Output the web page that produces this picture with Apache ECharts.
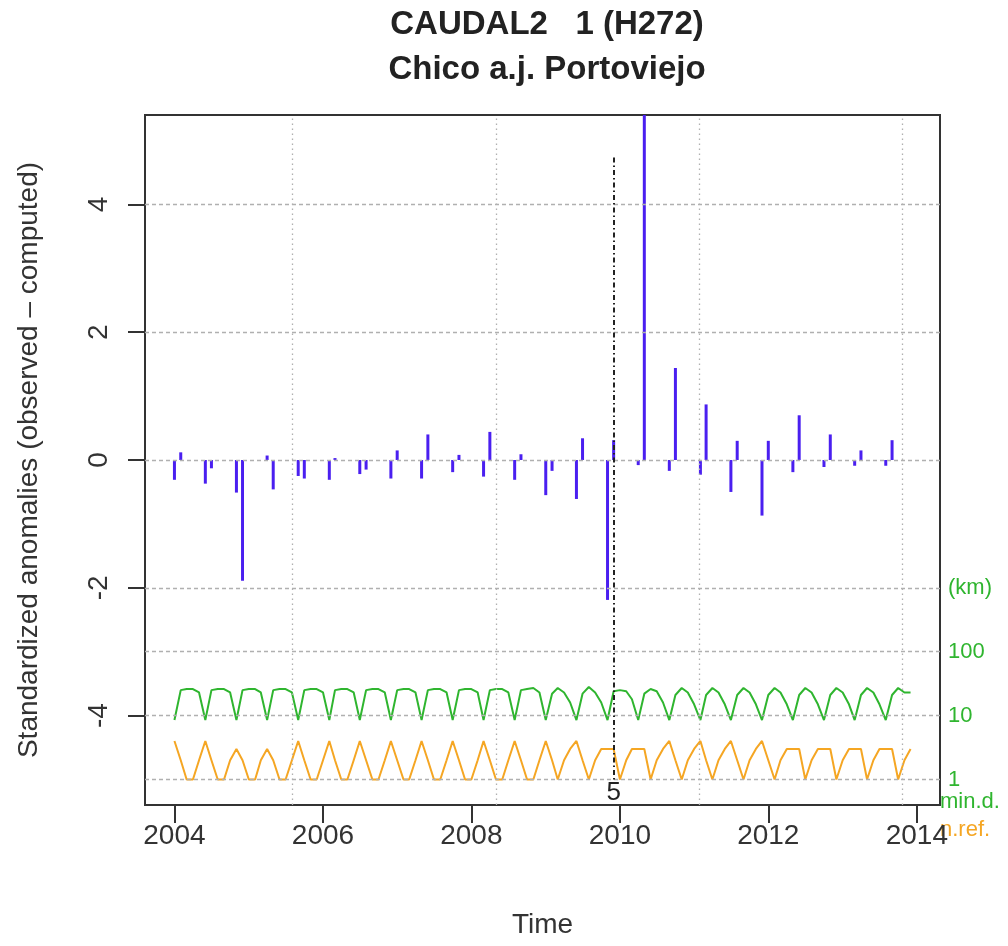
<!DOCTYPE html>
<html>
<head>
<meta charset="utf-8">
<script src="https://cdn.jsdelivr.net/npm/echarts@6/dist/echarts.min.js"></script>
<style>
  html, body { margin: 0; padding: 0; background: #fff; }
  #chart { width: 1008px; height: 946px; }
</style>
</head>
<body>
<div id="chart"></div>
<script>
// ---- monthly series, Jan 2004 .. Dec 2013 ----
const startYear = 2004;
const nMonths = 120;

// minimum distance to the nearest reference (km), one value per month
const minDistKm = [
  8.5, 25, 26, 26, 23,   8.5, 25, 26, 26, 23,   8.5, 25, 26, 26, 23,   8.5, 25, 26, 26, 23,
  8.5, 25, 26, 26, 23,   8.5, 25, 26, 26, 23,   8.5, 25, 26, 26, 23,   8.5, 25, 26, 26, 23,
  8.5, 25, 26, 26, 23,   8.5, 25, 26, 26, 23,   8.5, 25, 26, 26, 23,   8.5, 25, 26, 27, 23,
  8.5, 22, 27, 23, 16,   8.5, 22, 28, 23, 16,   8.5, 24, 25, 24, 18,   8.5, 22, 26, 24, 16,
  8.5, 21, 27, 23, 15,   8.5, 21, 27, 23, 15,   8.5, 21, 27, 23, 15,   8.5, 21, 27, 23, 15,
  8.5, 21, 27, 23, 15,   8.5, 21, 27, 23, 15,   8.5, 21, 27, 23, 15,   8.5, 21, 27, 23, 23
];

// number of references used, one value per month
const nRef = [
  4, 2, 1, 1, 2,   4, 2, 1, 1, 2,   3, 2, 1, 1, 2,   3, 2, 1, 1, 2,
  4, 2, 1, 1, 2,   4, 2, 1, 1, 2,   4, 2, 1, 1, 2,   4, 2, 1, 1, 2,
  4, 2, 1, 1, 2,   4, 2, 1, 1, 2,   4, 2, 1, 1, 2,   4, 2, 1, 1, 2,
  4, 2, 1, 2, 3,   4, 2, 1, 2, 3,   3, 3, 1, 2, 3,   3, 3, 1, 2, 3,
  4, 2, 1, 2, 3,   4, 2, 1, 2, 3,   4, 2, 1, 2, 3,   4, 2, 1, 2, 3,
  3, 3, 1, 2, 3,   3, 3, 1, 2, 3,   3, 3, 1, 2, 3,   3, 3, 1, 2, 3
];

// standardized anomalies at the observed months
const anomMonths = [
  '2004-01','2004-02','2004-06','2004-07','2004-11','2004-12','2005-04','2005-05',
  '2005-09','2005-10','2006-02','2006-03','2006-07','2006-08','2006-12','2007-01',
  '2007-05','2007-06','2007-10','2007-11','2008-03','2008-04','2008-08','2008-09',
  '2009-01','2009-02','2009-06','2009-07','2009-11','2009-12','2010-04','2010-05',
  '2010-09','2010-10','2011-02','2011-03','2011-07','2011-08','2011-12','2012-01',
  '2012-05','2012-06','2012-10','2012-11','2013-03','2013-04','2013-08','2013-09'
];
const anomValues = [
  -0.31, 0.12, -0.37, -0.13, -0.51, -1.89, 0.07, -0.46,
  -0.25, -0.29, -0.31, 0.03, -0.22, -0.15, -0.29, 0.15,
  -0.29, 0.40, -0.19, 0.08, -0.26, 0.44, -0.31, 0.09,
  -0.55, -0.17, -0.61, 0.34, -2.19, 0.31, -0.08, 5.60,
  -0.17, 1.44, -0.23, 0.87, -0.50, 0.30, -0.87, 0.30,
  -0.19, 0.70, -0.11, 0.40, -0.09, 0.15, -0.09, 0.31
];

// detected break
const breakMonth = '2009-12';
const breakTop = 4.74;
const breakLabel = '5';

// axes
const yearTicks = [2004, 2006, 2008, 2010, 2012, 2014];
const leftTicks = [-4, -2, 0, 2, 4];
const logTickPos = [-5, -4, -3, -2];
const logTickText = ['1', '10', '100', '(km)'];
const dayGridLines = [13000, 14000, 15000, 16000];   // days since 1970-01-01

// ---- helpers ----
const DAY = 86400000;
const dayOf = s => { const [y, m] = s.split('-').map(Number); return Date.UTC(y, m - 1, 1) / DAY; };
const months = [];
for (let i = 0; i < nMonths; i++) {
  const y = startYear + Math.floor(i / 12), m = (i % 12) + 1;
  months.push(y + '-' + String(m).padStart(2, '0'));
}
const toLog = v => Math.log10(v) - 5;     // log scale sits on the -5..-2 band
const monthDays = months.map(dayOf);
const span = monthDays[nMonths - 1] - monthDays[0];
const xMin = monthDays[0] - 0.04 * span;
const xMax = monthDays[nMonths - 1] + 0.04 * span;
const yearDays = yearTicks.map(y => Date.UTC(y, 0, 1) / DAY);

const FONT = 'Liberation Sans, Arial, Helvetica, sans-serif';
const BLUE = '#4a1ff0', GREEN = '#2fb52f', ORANGE = '#f5a623';

const hGrid = [...new Set([...leftTicks, ...logTickPos])];
const gridLineStyle = { color: '#b0b0b0', width: 1.3, type: [4, 3] };
const vGridStyle = { color: '#b0b0b0', width: 1.3, type: [1.5, 3.5] };

const chart = echarts.init(document.getElementById('chart'), null, { renderer: 'canvas' });
chart.setOption({
  backgroundColor: '#fff',
  animation: false,
  title: [
    { text: 'CAUDAL2   1 (H272)', left: 542, top: 3, textAlign: 'center',
      textStyle: { fontFamily: FONT, fontSize: 33, fontWeight: 'bold', color: '#222' } },
    { text: 'Chico a.j. Portoviejo', left: 542, top: 48, textAlign: 'center',
      textStyle: { fontFamily: FONT, fontSize: 33, fontWeight: 'bold', color: '#222' } }
  ],
  grid: { left: 145, right: 68, top: 115, height: 690, show: true,
          borderColor: '#333', borderWidth: 2, backgroundColor: 'transparent' },
  xAxis: {
    type: 'value', min: xMin, max: xMax, position: 'bottom',
    name: 'Time', nameLocation: 'middle', nameGap: 106,
    nameTextStyle: { fontFamily: FONT, fontSize: 28, color: '#333' },
    axisLine: { show: false, onZero: false },
    axisTick: { show: true, inside: false, customValues: yearDays, length: 18,
                lineStyle: { color: '#333', width: 2 } },
    axisLabel: { show: true, inside: false, customValues: yearDays, margin: 17,
                 fontFamily: FONT, fontSize: 28, color: '#333',
                 formatter: v => String(new Date(v * DAY).getUTCFullYear()) },
    splitLine: { show: false }
  },
  yAxis: [
    { type: 'value', min: -5.4, max: 5.4, position: 'left',
      name: 'Standardized anomalies (observed \u2013 computed)', nameLocation: 'middle', nameGap: 102,
      nameTextStyle: { fontFamily: FONT, fontSize: 28, color: '#333' },
      axisLine: { show: false, onZero: false },
      axisTick: { show: true, inside: false, customValues: leftTicks, length: 17,
                  lineStyle: { color: '#333', width: 2 } },
      axisLabel: { show: true, customValues: leftTicks, rotate: 90, margin: 32,
                   fontFamily: FONT, fontSize: 28, color: '#333' },
      splitLine: { show: false } },
    { type: 'value', min: -5.4, max: 5.4, position: 'right',
      axisLine: { show: false, onZero: false }, axisTick: { show: false },
      axisLabel: { show: true, customValues: logTickPos, margin: 8,
                   fontFamily: FONT, fontSize: 22, color: GREEN,
                   formatter: v => logTickText[logTickPos.indexOf(Math.round(v))] || '' },
      splitLine: { show: false } }
  ],
  graphic: [
    { type: 'text', left: 940, top: 791, style: { text: 'min.d.', font: '22px ' + FONT, fill: GREEN } },
    { type: 'text', left: 940, top: 819, style: { text: 'n.ref.', font: '22px ' + FONT, fill: ORANGE } }
  ],
  series: [
    { // reference grid
      type: 'line', data: [], z: 1, silent: true,
      markLine: { silent: true, symbol: ['none', 'none'], label: { show: false },
        data: [
          ...dayGridLines.map(d => ({ xAxis: d, lineStyle: vGridStyle })),
          ...hGrid.map(v => ({ yAxis: v, lineStyle: gridLineStyle }))
        ] }
    },
    { // minimum distance (log km)
      type: 'line', z: 3, symbol: 'none', silent: true,
      data: months.map((m, i) => [monthDays[i], toLog(minDistKm[i])]),
      lineStyle: { color: GREEN, width: 2 }
    },
    { // number of references (log)
      type: 'line', z: 3, symbol: 'none', silent: true,
      data: months.map((m, i) => [monthDays[i], toLog(nRef[i])]),
      lineStyle: { color: ORANGE, width: 2 }
    },
    { // anomalies
      type: 'bar', z: 4, barWidth: 3, silent: true,
      data: anomMonths.map((m, i) => [dayOf(m), anomValues[i]]),
      itemStyle: { color: BLUE }
    },
    { // break marker
      type: 'line', data: [], z: 5, silent: true,
      markLine: { silent: true, symbol: ['none', 'none'],
        data: [[
          { coord: [dayOf(breakMonth), -5] },
          { coord: [dayOf(breakMonth), breakTop] }
        ]],
        lineStyle: { color: '#222', width: 2, type: [1.5, 3, 5, 3] },
        label: { show: true, position: 'start', distance: 0, formatter: breakLabel,
                 fontFamily: FONT, fontSize: 26, color: '#222' } }
    }
  ]
});
</script>
</body>
</html>
